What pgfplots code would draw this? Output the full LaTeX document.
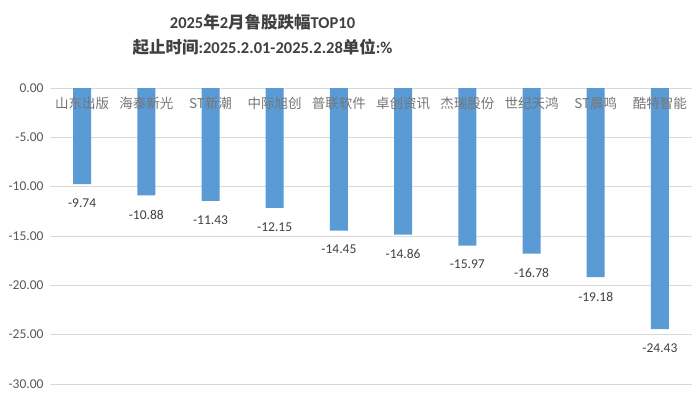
\documentclass[border=0pt]{standalone}
\usepackage{pgfplots}
\pgfplotsset{compat=1.18}
\usepackage{fontspec}
\setmainfont{Carlito}
\newfontfamily\cjk{Noto Sans CJK SC}
\definecolor{barblue}{HTML}{5B9BD5}
\definecolor{titlegray}{HTML}{404040}
\definecolor{catgray}{HTML}{767676}
\definecolor{tickgray}{HTML}{595959}
\definecolor{gridgray}{HTML}{D9D9D9}
\pgfplotstableread{
x y label
0 -9.74 -9.74
1 -10.88 -10.88
2 -11.43 -11.43
3 -12.15 -12.15
4 -14.45 -14.45
5 -14.86 -14.86
6 -15.97 -15.97
7 -16.78 -16.78
8 -19.18 -19.18
9 -24.43 -24.43
}\datatable
\pgfplotsset{base/.style={
  at={(50pt,13pt)}, anchor=south west,
  scale only axis, width=642pt, height=296pt,
  xmin=-0.5, xmax=9.5, ymin=-30, ymax=0,
  axis line style={draw=none},
  tick style={draw=none}}}
\begin{document}
\begin{tikzpicture}[x=1pt,y=1pt]
\useasboundingbox[fill=white] (0,0) rectangle (700,397);
\node[font=\bfseries\fontsize{16.5}{25}\selectfont, text=titlegray, align=center] at (262.5,362.5)
  {2025{\cjk\bfseries 年}2{\cjk\bfseries 月鲁股跌幅}TOP10\\{\cjk\bfseries 起止时间}:2025.2.01-2025.2.28{\cjk\bfseries 单位}:\%};
\begin{axis}[
  base,
  ybar, bar width=18pt,
  ymajorgrids, grid style={gridgray, line width=0.8pt},
  ytick={-30,-25,-20,-15,-10,-5,0},
  yticklabels={-30.00,-25.00,-20.00,-15.00,-10.00,-5.00,0.00},
  yticklabel style={font=\fontsize{13.5}{14}\selectfont, text=tickgray, xshift=-3pt},
  xtick=\empty,
  nodes near coords,
  point meta=explicit symbolic,
  every node near coord/.append style={font=\fontsize{13.5}{14}\selectfont, text=titlegray, anchor=north, yshift=-11pt},
]
\addplot[fill=barblue, draw=none] table[x=x, y=y, meta=label] {\datatable};
\end{axis}
\begin{axis}[
  base,
  ytick=\empty,
  xtick={0,...,9},
  xticklabels={山东出版,海泰新光,ST新潮,中际旭创,普联软件,卓创资讯,杰瑞股份,世纪天鸿,ST晨鸣,酷特智能},
  xticklabel pos=upper,
  xticklabel style={font=\cjk\fontsize{13.5}{14}\selectfont, text=catgray, anchor=center, yshift=-15pt},
]
\end{axis}
\end{tikzpicture}
\end{document}
